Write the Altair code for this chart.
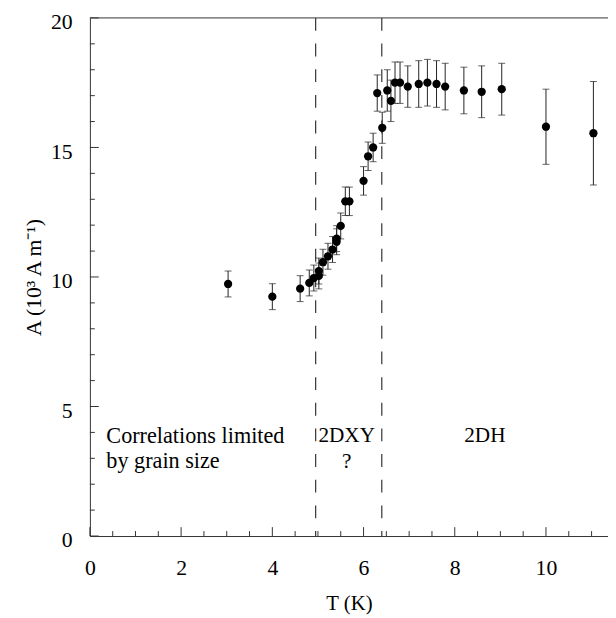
import altair as alt
import pandas as pd

# ---- data ----
T = [3.03, 4.00, 4.61, 4.81, 4.91, 5.02, 5.02, 5.11, 5.22, 5.32, 5.41, 5.41, 5.50,
     5.60, 5.69, 6.00, 6.10, 6.21, 6.41,
     6.30, 6.52, 6.60, 6.69, 6.80, 6.97, 7.21, 7.40, 7.60, 7.79, 8.20, 8.59, 9.03,
     10.0, 11.04]
A = [9.73, 9.24, 9.55, 9.77, 9.96, 10.04, 10.23, 10.57, 10.80, 11.06, 11.36, 11.48, 11.97,
     12.92, 12.92, 13.71, 14.66, 15.00, 15.76,
     17.10, 17.20, 16.80, 17.50, 17.50, 17.35, 17.45, 17.50, 17.45, 17.35, 17.20, 17.15, 17.25,
     15.80, 15.55]
ERR = [0.5, 0.5, 0.5, 0.5, 0.5, 0.5, 0.5, 0.5, 0.5, 0.5, 0.5, 0.5, 0.5,
       0.55, 0.55, 0.55, 0.55, 0.55, 0.6,
       0.7, 0.8, 0.8, 0.8, 0.8, 0.8, 0.9, 0.9, 0.9, 0.9, 0.9, 1.0, 1.0,
       1.45, 2.0]

boundaries = [4.95, 6.40]
x_major = [0, 2, 4, 6, 8, 10]
x_minor = [0.5, 1, 1.5, 2.5, 3, 3.5, 4.5, 5, 5.5, 6.5, 7, 7.5, 8.5, 9, 9.5, 10.5, 11]
y_major = [0, 5, 10, 15, 20]
y_minor = [1, 2, 3, 4, 6, 7, 8, 9, 11, 12, 13, 14, 16, 17, 18, 19]

labels = ["Correlations limited", "by grain size", "2DXY", "?", "2DH"]
label_x = [0.36, 0.36, 5.63, 5.63, 8.66]
label_y = [3.86, 2.88, 3.86, 2.86, 3.86]
label_align = ["left", "left", "center", "center", "center"]

W, H = 525, 525
FONT = "Liberation Serif"

df = pd.DataFrame({"T": T, "A": A, "err": ERR})
df["lo"] = df["A"] - df["err"]
df["hi"] = df["A"] + df["err"]

xs = alt.Scale(domain=[0, 11.36], nice=False, zero=False)
ys = alt.Scale(domain=[0, 20], nice=False)

xaxis = alt.Axis(values=x_major, ticks=False, grid=False, labelFontSize=22, labelFont=FONT,
                 labelColor="black", labelPadding=22, title="T (K)", titleFont=FONT,
                 titleFontSize=21, titleFontWeight="normal", titleColor="black",
                 titlePadding=14, domainColor="#333", labelFlush=False)
yaxis = alt.Axis(values=y_major, ticks=False, grid=False, labelFontSize=22, labelFont=FONT,
                 labelColor="black", labelPadding=18, labelOffset=4, title="A (10³ A m⁻¹)",
                 titleFont=FONT, titleFontSize=22, titleFontWeight="normal", titleColor="black",
                 titlePadding=5, domainColor="#333")

base = alt.Chart(df)

bars = base.mark_rule(color="#222", strokeWidth=1).encode(
    x=alt.X("T:Q", scale=xs, axis=xaxis),
    y=alt.Y("lo:Q", scale=ys, axis=yaxis),
    y2="hi:Q",
)
cap_lo = base.mark_tick(color="#222", orient="horizontal", size=7, thickness=1).encode(
    x=alt.X("T:Q", scale=xs), y=alt.Y("lo:Q", scale=ys))
cap_hi = base.mark_tick(color="#222", orient="horizontal", size=7, thickness=1).encode(
    x=alt.X("T:Q", scale=xs), y=alt.Y("hi:Q", scale=ys))
pts = base.mark_circle(color="black", size=70, opacity=1).encode(
    x=alt.X("T:Q", scale=xs), y=alt.Y("A:Q", scale=ys))

dash = alt.Chart(pd.DataFrame({"b": boundaries})).mark_rule(
    color="#333", strokeWidth=1.2, strokeDash=[13, 13]).encode(x=alt.X("b:Q", scale=xs))

xmaj = alt.Chart(pd.DataFrame({"v": x_major})).mark_rule(color="#333", strokeWidth=1).encode(
    x=alt.X("v:Q", scale=xs), y=alt.value(H), y2=alt.value(H - 9))
xmin = alt.Chart(pd.DataFrame({"v": x_minor})).mark_rule(color="#333", strokeWidth=1).encode(
    x=alt.X("v:Q", scale=xs), y=alt.value(H), y2=alt.value(H - 5))
ymaj = alt.Chart(pd.DataFrame({"v": y_major})).mark_rule(color="#333", strokeWidth=1).encode(
    y=alt.Y("v:Q", scale=ys), x=alt.value(0), x2=alt.value(9))
ymin = alt.Chart(pd.DataFrame({"v": y_minor})).mark_rule(color="#333", strokeWidth=1).encode(
    y=alt.Y("v:Q", scale=ys), x=alt.value(0), x2=alt.value(5))
top = alt.Chart(pd.DataFrame({"v": [0]})).mark_rule(color="#333", strokeWidth=1).encode(
    x=alt.value(0), x2=alt.value(W + 10), y=alt.value(0))

tdf = pd.DataFrame({"t": labels, "x": label_x, "y": label_y, "al": label_align})
txt_left = alt.Chart(tdf[tdf["al"] == "left"]).mark_text(
    align="left", baseline="middle", font=FONT, fontSize=22.5, color="black").encode(
    x=alt.X("x:Q", scale=xs), y=alt.Y("y:Q", scale=ys), text="t:N")
txt_center = alt.Chart(tdf[tdf["al"] == "center"]).mark_text(
    align="center", baseline="middle", font=FONT, fontSize=21.5, color="black").encode(
    x=alt.X("x:Q", scale=xs), y=alt.Y("y:Q", scale=ys), text="t:N")

chart = alt.layer(bars, dash, cap_lo, cap_hi, pts, xmaj, xmin, ymaj, ymin, top,
                  txt_left, txt_center).properties(
    width=W, height=H,
    autosize=alt.AutoSizeParams(type="none"),
    padding={"left": 83, "top": 6, "right": 0, "bottom": 79},
).configure_view(stroke=None)

chart.save("out.html", embed_options={"renderer": "svg", "actions": False})
